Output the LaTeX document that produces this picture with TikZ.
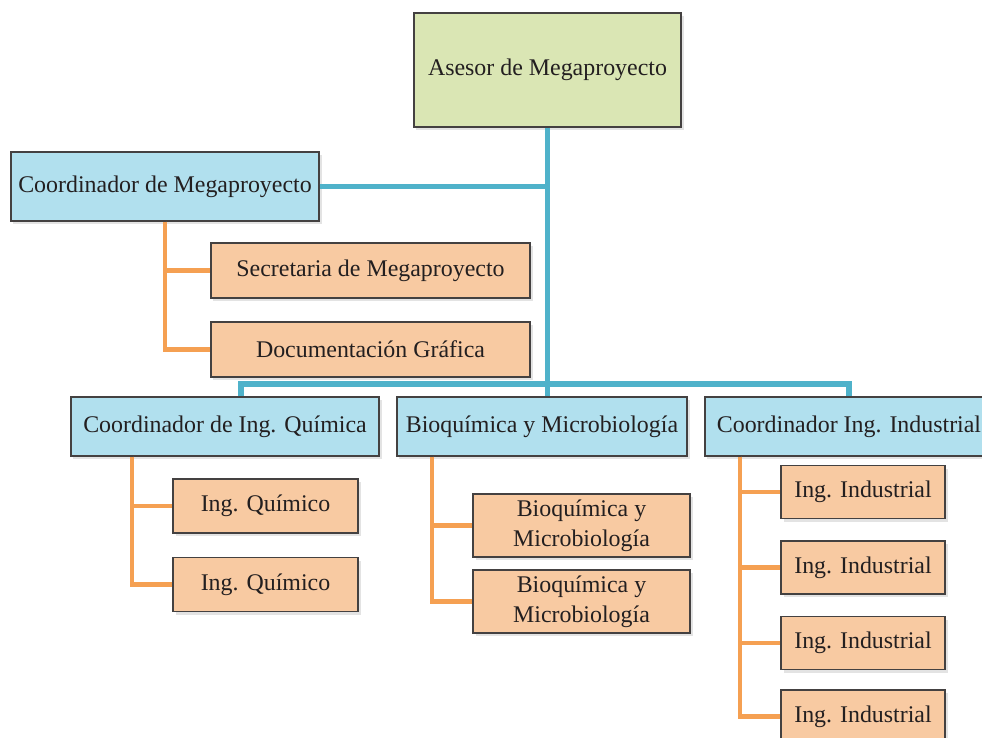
\documentclass[tikz,border=0pt]{standalone}
\usepackage{fontspec}
\setmainfont{Liberation Serif}
\usetikzlibrary{shadows}

\definecolor{verde}{HTML}{DAE6B4}
\definecolor{celeste}{HTML}{B1E0EE}
\definecolor{salmon}{HTML}{F8CAA2}
\definecolor{azul}{HTML}{4FB2CA}
\definecolor{naranja}{HTML}{F5A052}
\definecolor{texto}{HTML}{231F20}

\tikzset{
  caja/.style={draw=texto!85,line width=0.9pt,text=texto,inner sep=2pt,
    font=\fontsize{17}{21}\selectfont,align=center,
    drop shadow={opacity=0.22,shadow xshift=1.8pt,shadow yshift=-2.2pt}},
  cverde/.style={caja,fill=verde},
  cceleste/.style={caja,fill=celeste},
  csalmon/.style={caja,fill=salmon},
  lazul/.style={azul,line width=3.6pt},
  lnaranja/.style={naranja,line width=2.9pt},
}

\begin{document}
\begin{tikzpicture}[x=0.025cm,y=-0.025cm]
        \clip (0,0) rectangle (982,738) ;
        % puntos de las lineas
        \coordinate (bus) at (241,384) ;
        \coordinate (qspine) at (132,0) ;
        \coordinate (bspine) at (432,0) ;
        \coordinate (ispine) at (740,0) ;
        % cajas
        \node[cverde,minimum width=6.675cm,minimum height=2.85cm] (asesor) at (547.5,70) {Asesor de Megaproyecto} ;
        \node[cceleste,minimum width=7.7cm,minimum height=1.725cm] (cmega) at (165,186.5) {Coordinador de Megaproyecto} ;
        \node[csalmon,minimum width=7.975cm,minimum height=1.375cm] (secr) at (370.5,270.5) {Secretaria de Megaproyecto} ;
        \node[csalmon,minimum width=7.975cm,minimum height=1.375cm] (docg) at (370.5,349.5) {Documentación Gráfica} ;
        \node[cceleste,minimum width=7.7cm,minimum height=1.475cm] (cquim) at (225,426.5) {Coordinador de Ing. Química} ;
        \node[cceleste,minimum width=7.25cm,minimum height=1.475cm] (bioq) at (542,426.5) {Bioquímica y Microbiología} ;
        \node[cceleste,minimum width=7.2cm,minimum height=1.475cm] (cind) at (849,426.5) {Coordinador Ing. Industrial} ;
        \node[csalmon,minimum width=4.625cm,minimum height=1.35cm] (quim1) at (265.5,506) {Ing. Químico} ;
        \node[csalmon,minimum width=4.625cm,minimum height=1.35cm] (quim2) at (265.5,584.5) {Ing. Químico} ;
        \node[csalmon,minimum width=5.425cm,minimum height=1.575cm] (bio1) at (581.5,525.5) {Bioquímica y\\Microbiología} ;
        \node[csalmon,minimum width=5.425cm,minimum height=1.575cm] (bio2) at (581.5,601.5) {Bioquímica y\\Microbiología} ;
        \node[csalmon,minimum width=4.1cm,minimum height=1.325cm] (ind1) at (863,492) {Ing. Industrial} ;
        \node[csalmon,minimum width=4.1cm,minimum height=1.325cm] (ind2) at (863,567.5) {Ing. Industrial} ;
        \node[csalmon,minimum width=4.1cm,minimum height=1.325cm] (ind3) at (863,643) {Ing. Industrial} ;
        \node[csalmon,minimum width=4.1cm,minimum height=1.325cm] (ind4) at (863,716.5) {Ing. Industrial} ;
        % lineas azules
        \draw[lazul] (asesor.south) -- (asesor.south |- bioq.north) ;
        \draw[lazul] (cmega.east) -- (cmega.east -| asesor.south) ;
        \draw[lazul] (cquim.north -| bus) -- (bus) -| (cind.north) ;
        % lineas naranjas
        \draw[lnaranja] (cmega.south) |- (secr.west) ;
        \draw[lnaranja] (cmega.south) |- (docg.west) ;
        \draw[lnaranja] (cquim.south -| qspine) |- (quim1.west) ;
        \draw[lnaranja] (cquim.south -| qspine) |- (quim2.west) ;
        \draw[lnaranja] (bioq.south -| bspine) |- (bio1.west) ;
        \draw[lnaranja] (bioq.south -| bspine) |- (bio2.west) ;
        \draw[lnaranja] (cind.south -| ispine) |- (ind1.west) ;
        \draw[lnaranja] (cind.south -| ispine) |- (ind2.west) ;
        \draw[lnaranja] (cind.south -| ispine) |- (ind3.west) ;
        \draw[lnaranja] (cind.south -| ispine) |- (ind4.west) ;
      \end{tikzpicture}
\end{document}
